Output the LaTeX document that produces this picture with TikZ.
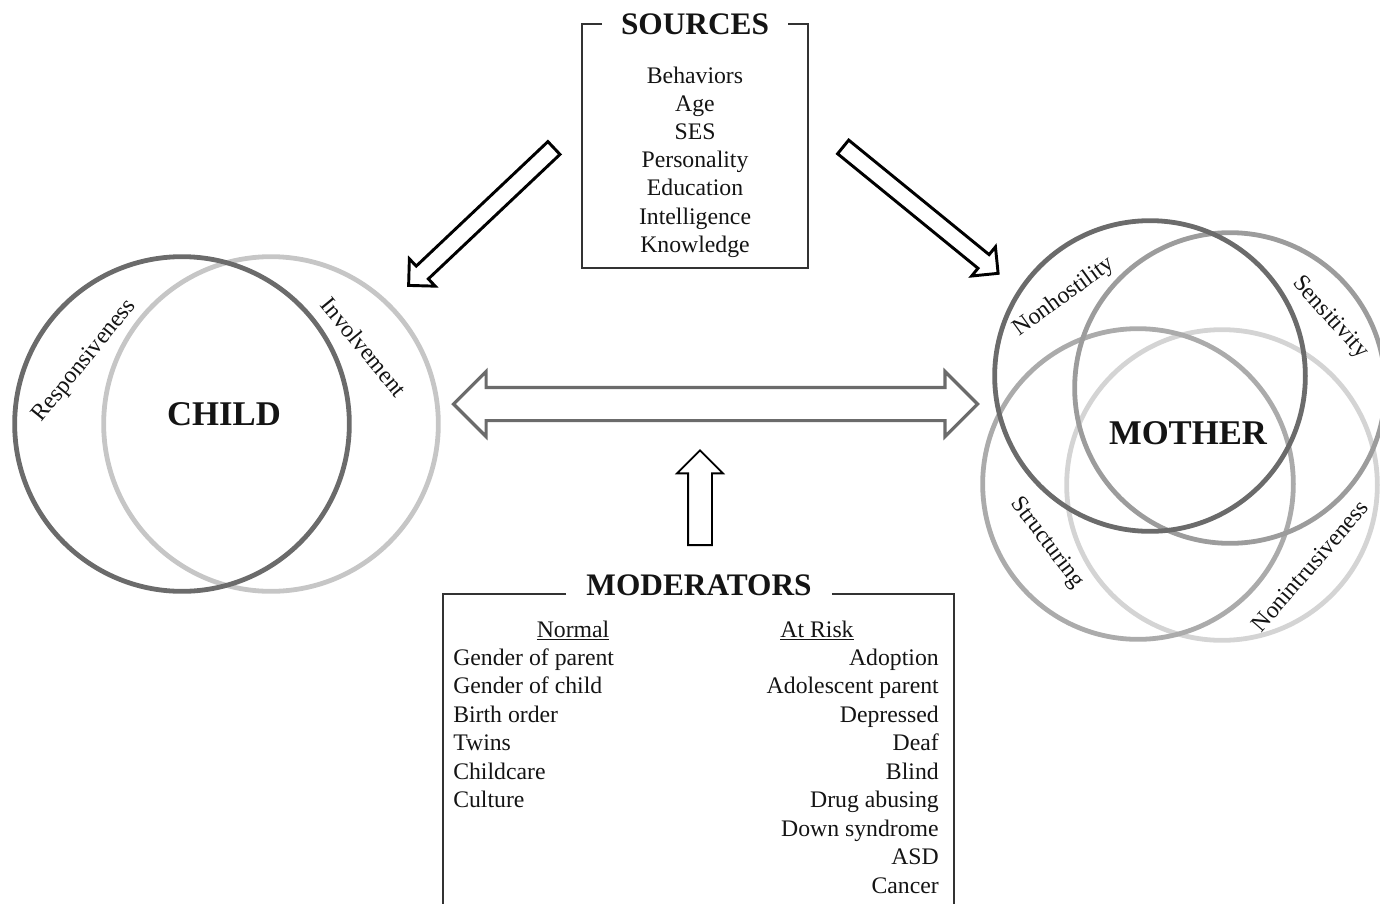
\documentclass[tikz,border=0pt]{standalone}
\usepackage{fontspec}
\setmainfont{Liberation Serif}
\usetikzlibrary{positioning,calc,shapes.arrows}
\definecolor{ink}{HTML}{141414}
\definecolor{frm}{HTML}{333333}
\definecolor{ringdk}{HTML}{6B6B6B}
\definecolor{ringmd}{HTML}{9C9C9C}
\definecolor{ringgy}{HTML}{ABABAB}
\definecolor{ringlt}{HTML}{C6C6C6}
\definecolor{ringxl}{HTML}{D4D4D4}
\tikzset{
  ring/.style={draw=#1, line width=3.6pt, circle, inner sep=0pt},
  childring/.style={ring=#1, minimum size=251pt},
  momring/.style={ring=#1, minimum size=233pt},
  bigname/.style={font=\fontsize{26}{30}\selectfont\bfseries, text=ink},
  boxtitle/.style={font=\fontsize{23.5}{28}\selectfont\bfseries, text=ink, inner xsep=14pt, inner ysep=0pt},
  listitem/.style={font=\fontsize{17.8}{21.4}\selectfont, text=ink, inner sep=0pt},
  ringlabel/.style={font=\fontsize{17.8}{21.4}\selectfont, text=ink, inner sep=0pt},
  frame/.style={draw=frm, line width=1.3pt},
  diagarrow/.style={single arrow, draw=black, line width=2.2pt, inner xsep=0pt, inner ysep=5.5pt,
                    minimum width=26pt, single arrow head extend=7.5pt,
                    single arrow tip angle=90, minimum height=150pt, anchor=tail},
  linkarrow/.style={double arrow, draw=ringdk, line width=2.4pt, inner xsep=0pt, inner ysep=11.25pt,
                    minimum width=46.5pt, double arrow head extend=12pt,
                    double arrow tip angle=90, minimum height=393pt},
  modarrow/.style={single arrow, draw=black, line width=1.4pt, inner xsep=0pt, inner ysep=8.25pt,
                   minimum width=33pt, single arrow head extend=8.25pt,
                   single arrow tip angle=90, minimum height=71pt, anchor=tail},
}
\begin{document}
\begin{tikzpicture}[x=0.75pt,y=-0.75pt]
  \useasboundingbox (0,0) rectangle (1380,903);

  % child rings
  \node[childring=ringlt] (invring) at (271,424) {};
  \node[childring=ringdk] (resring) at (182,424) {};
  \node[bigname] (child) at (224,414) {CHILD};
  \node[ringlabel,rotate=51] (resp) at (85,361) {Responsiveness};
  \node[ringlabel,rotate=-50.5] (invl) at (364,347) {Involvement};

  % mother rings
  \node[momring=ringxl] (nonring) at (1222,485) {};
  \node[momring=ringgy] (strring) at (1138,484) {};
  \node[momring=ringmd] (senring) at (1230,388) {};
  \node[momring=ringdk] (hosring) at (1150,376) {};
  \node[bigname] (mother) at (1188,433) {MOTHER};
  \node[ringlabel,rotate=36] (nonh) at (1064,297) {Nonhostility};
  \node[ringlabel,rotate=-48] (sens) at (1330,318) {Sensitivity};
  \node[ringlabel,rotate=-53] (stru) at (1047,543) {Structuring};
  \node[ringlabel,rotate=49] (noni) at (1310,566) {Nonintrusiveness};

  % sources box
  \node[boxtitle] (srctitle) at (695,24) {SOURCES};
  \coordinate (srcNW) at (582,24);
  \coordinate (srcSE) at (808,268);
  \draw[frame] (srctitle.west) -- (srcNW) |- (srcSE) |- (srctitle.east);
  \foreach \t [count=\i] in {Behaviors,Age,SES,Personality,Education,Intelligence,Knowledge}
    \node[listitem,anchor=base] (src\i) at (695,{83+(\i-1)*28.2}) {\t};

  % moderators box
  \node[boxtitle,inner xsep=15pt] (modtitle) at (699,585) {MODERATORS};
  \coordinate (modNW) at (443,594);
  \coordinate (modNE) at (954,594);
  \coordinate (modSW) at (443,910);
  \coordinate (modSE) at (954,910);
  \draw[frame] (modtitle.west |- modNW) -- (modNW) -- (modSW);
  \draw[frame] (modtitle.east |- modNE) -- (modNE) -- (modSE);
  \node[listitem,anchor=base] (normal) at (573,637) {\underline{Normal}};
  \node[listitem,anchor=base] (atrisk) at (817,637) {\underline{At Risk}};
  \foreach \t [count=\i] in {Gender of parent,Gender of child,Birth order,Twins,Childcare,Culture}
    \node[listitem,anchor=base west] (norm\i) at (453,{665+(\i-1)*28.5}) {\t};
  \foreach \t [count=\i] in {Adoption,Adolescent parent,Depressed,Deaf,Blind,Drug abusing,Down syndrome,ASD,Cancer}
    \node[listitem,anchor=base east] (risk\i) at (939,{665+(\i-1)*28.5}) {\t};

  % block arrows
  \coordinate (srcL) at (555,147);
  \coordinate (srcR) at (842,146);
  \node[diagarrow,rotate=223.4] (toChild) at (srcL) {};
  \node[diagarrow,rotate=-39.2] (toMom) at (srcR) {};
  \coordinate (linkL) at (452,404);
  \coordinate (linkR) at (979,404);
  \node[linkarrow] (link) at ($(linkL)!0.5!(linkR)$) {};
  \coordinate (modfoot) at (700,546);
  \node[modarrow,rotate=90] (modup) at (modfoot) {};
\end{tikzpicture}
\end{document}
